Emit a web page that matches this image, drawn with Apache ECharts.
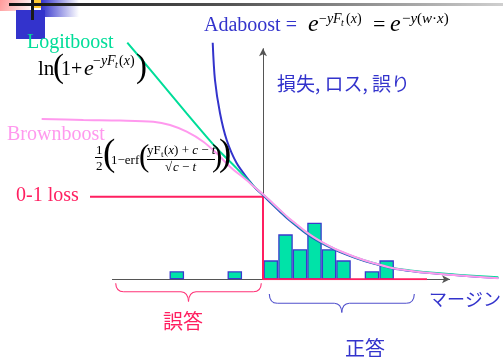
<!DOCTYPE html>
<html><head><meta charset="utf-8">
<script src="https://cdn.jsdelivr.net/npm/echarts@6/dist/echarts.min.js"></script>
<style>html,body{margin:0;padding:0;background:#fff}#c{width:503px;height:357px}</style>
</head><body><div id="c"></div>
<script>
// margin (x) vs loss (y)
const adaboost = [[-0.867,2.868],[-0.828,2.416],[-0.741,2.012],[-0.626,1.688],[-0.453,1.406],[-0.224,1.183],[-0.138,1.108],[0.005,1.015],[0.150,0.915],[0.293,0.820],[0.436,0.727],[0.581,0.645],[0.724,0.566],[0.867,0.498],[1.012,0.438],[1.155,0.386],[1.298,0.340],[1.586,0.262],[1.874,0.197],[2.247,0.130],[2.534,0.102],[2.822,0.078],[3.397,0.046],[4.057,0.015]];
const logitboost = [[-2.340,2.868],[-1.891,2.497],[-1.316,2.012],[-0.798,1.588],[-0.453,1.345],[-0.138,1.112],[0.005,1.024],[0.150,0.929],[0.293,0.833],[0.436,0.740],[0.581,0.658],[0.724,0.578],[0.867,0.510],[1.012,0.449],[1.155,0.396],[1.298,0.348],[1.586,0.268],[1.874,0.203],[2.247,0.137],[2.534,0.108],[2.822,0.085],[3.397,0.053],[4.057,0.025]];
const brownboost = [[-3.816,1.943],[-3.098,1.931],[-2.466,1.925],[-1.891,1.910],[-1.603,1.870],[-1.316,1.789],[-1.029,1.668],[-0.798,1.527],[-0.569,1.365],[-0.281,1.20],[-0.138,1.112],[0.005,1.028],[0.150,0.935],[0.293,0.840],[0.436,0.747],[0.581,0.665],[0.724,0.584],[0.867,0.515],[1.012,0.454],[1.155,0.400],[1.298,0.352],[1.586,0.271],[1.874,0.204],[2.247,0.135],[2.534,0.104],[2.822,0.080],[3.397,0.046],[4.057,0.012]];
const zeroOneLoss = [[-2.983,1],[0,1],[0,0],[2.828,0]];
const histMargins = [-1.486,-0.486,0.134,0.388,0.638,0.888,1.138,1.388,1.879,2.132];
const histHeights = [0.097,0.097,0.230,0.545,0.364,0.686,0.364,0.230,0.097,0.230];

const BLUE = '#3333cc', TEAL = '#00dd99', PINK = '#ff99ee', RED = '#ff1f60', BLACK = '#000';
const SERIF = '"Liberation Serif","Times New Roman",serif';
const CJK = '"Noto Sans CJK JP","Noto Sans CJK SC",sans-serif';

function M(str, x, base, size, color, italic) {
  const st = italic ? 'italic' : 'normal';
  return {type:'text', x:x, y:base - 0.34*size, silent:true, z:10,
    style:{text:str, fill:color||BLACK, fontSize:size, fontFamily:SERIF, fontStyle:st,
      verticalAlign:'middle', align:'left',
      rich:{
        i:{fontStyle:'italic', fontSize:size, fontFamily:SERIF, fill:color||BLACK},
        n:{fontStyle:'normal', fontSize:size, fontFamily:SERIF, fill:color||BLACK}
      }}};
}
function J(str, x, cy, size, color) {
  return {type:'text', x:x, y:cy, silent:true, z:10,
    style:{text:str, fill:color, fontSize:size, fontFamily:CJK, verticalAlign:'middle', align:'left'}};
}
function L(x1,y1,x2,y2,w,c){return {type:'line', silent:true, z:10, shape:{x1:x1,y1:y1,x2:x2,y2:y2}, style:{stroke:c||BLACK, lineWidth:w||1}};}
function Q(x1,y1,cx,cy,x2,y2,c){return {type:'bezierCurve', silent:true, z:10, shape:{x1:x1,y1:y1,cpx1:cx,cpy1:cy,x2:x2,y2:y2}, style:{fill:null, stroke:c, lineWidth:1.1}};}
function brace(xl, xr, yTop, yMid, yTip, c) {
  const xm = (xl + xr) / 2;
  return [
    Q(xl, yTop, xl + 0.3, yMid, xl + 8, yMid, c),
    L(xl + 8, yMid, xm - 7.5, yMid, 1.1, c),
    Q(xm - 7.5, yMid, xm - 0.5, yMid + 0.3, xm, yTip, c),
    Q(xm, yTip, xm + 0.5, yMid + 0.3, xm + 7.5, yMid, c),
    L(xm + 7.5, yMid, xr - 8, yMid, 1.1, c),
    Q(xr - 8, yMid, xr - 0.3, yMid, xr, yTop, c)
  ];
}

const graphics = [
  // slide decoration
  {type:'rect', shape:{x:0,y:0,width:30,height:11}, z:1, style:{fill:{type:'linear',x:0,y:0,x2:1,y2:1,colorStops:[{offset:0,color:'#ff9a9a'},{offset:1,color:'#fff0f0'}]}}},
  {type:'rect', shape:{x:41,y:0,width:38,height:17}, z:1, style:{fill:{type:'linear',x:0,y:0,x2:1,y2:0,colorStops:[{offset:0,color:'#3333cc'},{offset:1,color:'#ffffff'}]}}},
  {type:'rect', shape:{x:16,y:10,width:29,height:29}, z:1, style:{fill:BLUE}},
  {type:'rect', shape:{x:33,y:0,width:8,height:8}, z:2, style:{fill:'#ffcc33'}},
  {type:'rect', shape:{x:9,y:3,width:494,height:3}, z:3, style:{fill:{type:'linear',x:0,y:0,x2:1,y2:0,colorStops:[{offset:0,color:'#111'},{offset:0.45,color:'#555'},{offset:1,color:'#cfcfcf'}]}}},
  {type:'rect', shape:{x:31,y:0,width:3,height:20}, z:4, style:{fill:'#1a1a1a'}},

  // Adaboost
  M('Adaboost =', 204, 33, 20, BLUE),
  M('e', 308, 33, 24, BLACK, true),
  M('−{i|yF}', 319, 24, 14),
  M('t', 341, 27, 10, BLACK, true),
  M('({i|x})', 346, 24, 14),
  M('=', 373, 33, 22),
  M('e', 390, 33, 24, BLACK, true),
  M('−{i|y}({i|w}·{i|x})', 402, 24, 15),

  // Logitboost
  M('Logitboost', 27, 50, 20, TEAL),
  M('ln', 38, 77, 21),
  M('(', 53, 80, 33),
  M('1', 61, 77, 20),
  M('+', 71, 77, 20),
  M('e', 84, 77, 22, BLACK, true),
  M('−{i|yF}', 93, 66, 14),
  M('t', 115, 69, 10, BLACK, true),
  M('({i|x})', 119, 66, 14),
  M(')', 136, 80, 33),

  // Brownboost
  M('Brownboost', 7, 142, 20, PINK),
  M('1', 96, 155, 13),
  L(95, 157.5, 102.5, 157.5, 1),
  M('2', 96, 171, 13),
  M('(', 103, 168, 37),
  M('1−erf', 111, 165, 13),
  M('(', 139, 168, 31),
  M('yF', 147, 155, 13),
  M('t', 161, 158, 9),
  M('({i|x}) + {i|c} − {i|t}', 164, 155, 13),
  L(147, 159.5, 215, 159.5, 1),
  M('√', 165, 172, 13),
  M('{i|c} − {i|t}', 173, 172, 13),
  M(')', 212, 168, 31),
  M(')', 219, 168, 37),

  // 0-1 loss
  M('0-1 loss', 16, 203, 20, RED),

  // Japanese labels
  J('損失, ロス, 誤り', 277, 84, 19, BLUE),
  J('マージン', 429, 299, 18, BLUE),
  J('誤答', 163, 321, 20, RED),
  J('正答', 345, 348, 20, BLUE)
].concat(brace(115.7, 261.3, 283.3, 291.7, 301.5, '#ff3377'))
 .concat(brace(269.3, 414.3, 294, 303.3, 312.5, '#5050cc'));

const chart = echarts.init(document.getElementById('c'), null, {renderer:'canvas'});
chart.setOption({
  animation:false,
  backgroundColor:'#fff',
  grid:{left:31, top:31.8, width:469.8, height:247.5, containLabel:false},
  xAxis:{type:'value', min:-4, max:4.1, show:false},
  yAxis:{type:'value', min:0, max:3, show:false},
  series:[
    {type:'line', data:[[0,0]], symbol:'none', lineStyle:{opacity:0}, z:1, silent:true,
     markLine:{silent:true, z:1, symbol:['none','arrow'], symbolSize:[6,8], animation:false,
       label:{show:false},
       lineStyle:{color:'#555', width:1, type:'solid'},
       data:[
         [{coord:[-2.603,0]},{coord:[3.224,0]}],
         [{coord:[0,0]},{coord:[0,2.8]}]
       ]}},
    {type:'bar', data:histMargins.map((m,i)=>[m, histHeights[i]]), barWidth:14.5, z:2, silent:true,
     itemStyle:{color:'#00e3a8', borderColor:'#3a3acc', borderWidth:1.3}},
    {type:'line', data:zeroOneLoss, symbol:'none', z:3, silent:true, lineStyle:{color:RED, width:2}},
    {type:'line', data:adaboost, symbol:'none', smooth:0.3, z:4, silent:true, lineStyle:{color:BLUE, width:2}},
    {type:'line', data:logitboost, symbol:'none', smooth:0.3, z:5, silent:true, lineStyle:{color:TEAL, width:2}},
    {type:'line', data:brownboost, symbol:'none', smooth:0.3, z:6, silent:true, lineStyle:{color:PINK, width:2}}
  ],
  graphic:graphics
});
</script>
</body></html>
